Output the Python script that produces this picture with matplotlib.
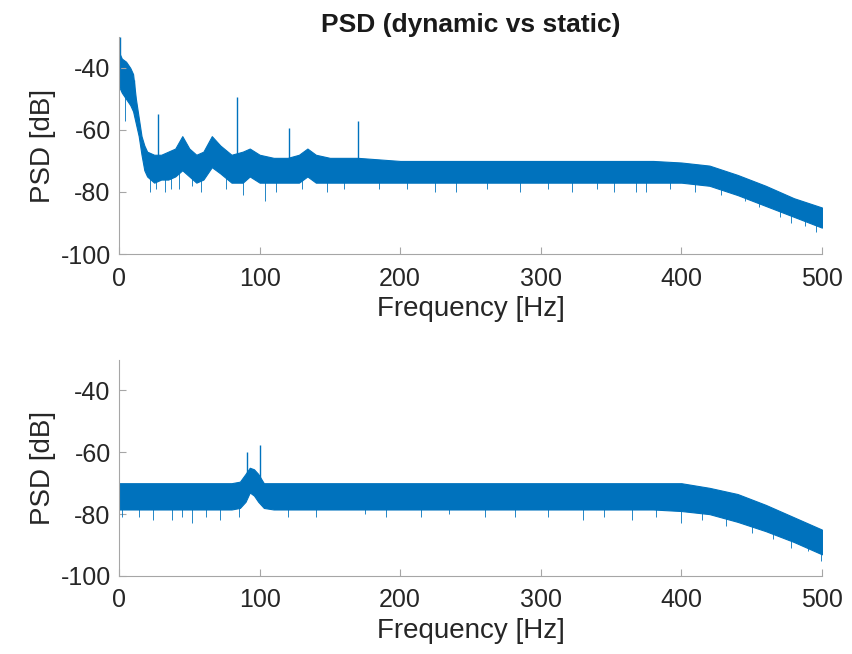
import matplotlib
matplotlib.use('Agg')
import matplotlib.pyplot as plt
import numpy as np

plt.rcParams['font.family'] = ['Liberation Sans', 'DejaVu Sans']
plt.rcParams['axes.unicode_minus'] = False

blue = '#0072BD'

# dynamic (top) - band envelope
freq_top = [0, 2, 5, 8, 10, 12, 14, 16, 18, 20, 25, 30, 35, 40, 45, 50, 55, 60, 66, 72,
            80, 88, 93, 100, 110, 120, 128, 134, 140, 150, 170, 200, 250, 300, 350, 380,
            400, 420, 440, 460, 480, 500]
upper_top = [-35, -37, -38, -40, -42, -50, -56, -62, -65, -67, -68, -68, -67, -66, -62, -66,
             -68, -67, -62, -65, -68, -67, -66, -68, -69, -69, -68, -66, -68, -69, -69, -70,
             -70, -70, -70, -70, -70.5, -71.5, -74.5, -78, -82, -85]
lower_top = [-46, -48, -50, -52, -54, -58, -62, -68, -73, -75, -77, -76, -76, -75, -73, -75,
             -77, -76, -72, -74, -77, -77, -75, -77, -77, -77, -77, -75, -77, -77, -77, -77,
             -77, -77, -77, -77, -77, -78, -81, -84.5, -88, -91.5]
spike_f_top = [0.5, 5.5, 11, 27.5, 84, 121, 170]
spike_v_top = [-30, -39, -44, -55, -49.5, -59.5, -57]
dip_f_top = [4, 22, 26, 33, 37, 43, 52, 58, 76, 88, 104, 112, 130, 148, 160, 185, 205, 225,
             240, 262, 285, 305, 322, 340, 352, 368, 375, 392, 410, 428, 445, 455, 470, 478,
             488, 496]
dip_v_top = [-57, -80, -79, -80, -79, -79, -78, -80, -79, -81, -83, -80, -79, -80, -79, -79,
             -79, -80, -80, -79, -80, -79, -80, -79, -80, -80, -80, -79, -80, -81, -83, -85,
             -88, -90, -91, -93]

# static (bottom)
freq_bot = [0, 50, 80, 86, 90, 93, 96, 99, 103, 110, 200, 300, 380, 400, 420, 440, 460, 480, 500]
upper_bot = [-70, -70, -70, -69.5, -67, -65, -65.5, -67, -70, -70, -70, -70, -70, -70, -71.5,
             -73.5, -77, -81, -85]
lower_bot = [-78.5, -78.5, -78.5, -78, -76, -73, -74, -76, -78, -78.5, -78.5, -78.5, -78.5,
             -79, -80, -82.5, -85.5, -89, -93]
spike_f_bot = [91, 100]
spike_v_bot = [-60, -57.7]
dip_f_bot = [2, 14, 24, 38, 45, 52, 62, 72, 85, 120, 140, 175, 190, 215, 235, 260, 282, 305,
             330, 345, 365, 382, 400, 415, 432, 450, 465, 478, 490, 499]
dip_v_bot = [-81, -81, -82, -82, -81, -83, -81, -82, -81, -81, -81, -80, -81, -81, -80, -81,
             -81, -81, -82, -81, -82, -81, -83, -82, -84, -86, -88, -91, -92, -95]

title = 'PSD (dynamic vs static)'

fig = plt.figure(figsize=(8.52, 6.54), dpi=100)
ax1 = fig.add_axes([0.1397, 0.6116, 0.825, 0.332])
ax2 = fig.add_axes([0.1397, 0.1193, 0.825, 0.331])


def draw(ax, f, up, lo, sf, sv, df, dv):
    ax.fill_between(f, lo, up, color=blue, linewidth=0.8, edgecolor=blue)
    mid = [(a + b) / 2 for a, b in zip(up, lo)]
    base_s = np.interp(sf, f, mid)
    base_d = np.interp(df, f, mid)
    ax.vlines(sf, base_s, sv, color=blue, linewidth=1.0)
    ax.vlines(df, base_d, dv, color=blue, linewidth=0.6)
    ax.set_xlim(0, 500)
    ax.set_ylim(-100, -30)
    ax.set_yticks([-100, -80, -60, -40])
    ax.set_xticks([0, 100, 200, 300, 400, 500])
    for s in ['top', 'right']:
        ax.spines[s].set_visible(False)
    for s in ['left', 'bottom']:
        ax.spines[s].set_color('#a6a6a6')
    ax.tick_params(direction='in', length=5, colors='#a6a6a6', labelcolor='#262626',
                   labelsize=18)
    ax.tick_params(axis='x', pad=9)
    ax.tick_params(axis='y', pad=6)
    ax.set_xlabel('Frequency [Hz]', fontsize=20, color='#262626', labelpad=4)
    ax.set_ylabel('PSD [dB]', fontsize=20, color='#262626', labelpad=3)


draw(ax1, freq_top, upper_top, lower_top, spike_f_top, spike_v_top, dip_f_top, dip_v_top)
draw(ax2, freq_bot, upper_bot, lower_bot, spike_f_bot, spike_v_bot, dip_f_bot, dip_v_bot)
ax1.set_title(title, fontsize=19, fontweight='bold', pad=3, color='#1a1a1a')

fig.savefig('out.png', dpi=100)
